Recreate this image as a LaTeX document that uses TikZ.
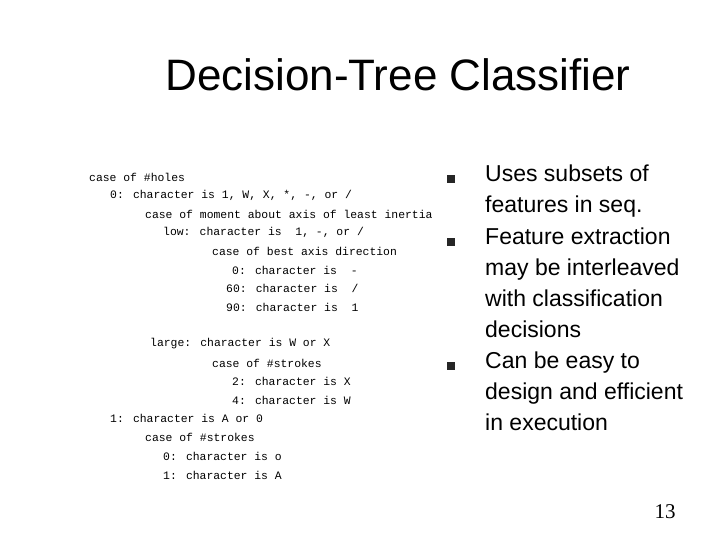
\documentclass[tikz,border=0pt]{standalone}
\usepackage{fontspec}
\setmainfont{Liberation Sans}
\newfontfamily\codefont{Liberation Mono}
\newfontfamily\numfont{Liberation Serif}
\begin{document}
\begin{tikzpicture}[x=1pt,y=1pt,
  code/.style={anchor=west,inner sep=0pt,font=\codefont\fontsize{11.4}{12}\selectfont},
  bul/.style={fill=black!85,minimum size=7.5pt,inner sep=0pt},
  btxt/.style={anchor=north west,inner sep=0pt,align=left,font=\fontsize{23}{31}\selectfont}]
\useasboundingbox (0,0) rectangle (720,-540);
\node[font=\fontsize{44}{48}\selectfont] (title) at (398,-75) {Decision-Tree Classifier};
\node[code] (l1) at (89,-177) {case of \#holes};
\node[code] (l2) at (110,-195) {0: character is 1, W, X, *, -, or /};
\node[code] (l3) at (145,-214) {case of moment about axis of least inertia};
\node[code] (l4) at (163,-232) {low: character is\ \ 1, -, or /};
\node[code] (l5) at (212,-251) {case of best axis direction};
\node[code] (l6) at (232,-270) {0: character is\ \ -};
\node[code] (l7) at (226,-288) {60: character is\ \ /};
\node[code] (l8) at (226,-307) {90: character is\ \ 1};
\node[code] (l9) at (150,-344) {large: character is W or X};
\node[code] (l10) at (212,-363) {case of \#strokes};
\node[code] (l11) at (232,-381) {2: character is X};
\node[code] (l12) at (232,-400) {4: character is W};
\node[code] (l13) at (110,-418) {1: character is A or 0};
\node[code] (l14) at (145,-437) {case of \#strokes};
\node[code] (l15) at (163,-456) {0: character is o};
\node[code] (l16) at (163,-475) {1: character is A};
\node[bul] (b1) at (451,-179) {};
\node[bul] (b2) at (451,-242) {};
\node[bul] (b3) at (451,-366) {};
\node[btxt] (t1) at (485,-165) {Uses subsets of\\features in seq.};
\node[btxt] (t2) at (485,-228) {Feature extraction\\may be interleaved\\with classification\\decisions};
\node[btxt] (t3) at (485,-352) {Can be easy to\\design and efficient\\in execution};
\node[font=\numfont\fontsize{21}{24}\selectfont] (num) at (665,-512) {13};
\end{tikzpicture}
\end{document}
